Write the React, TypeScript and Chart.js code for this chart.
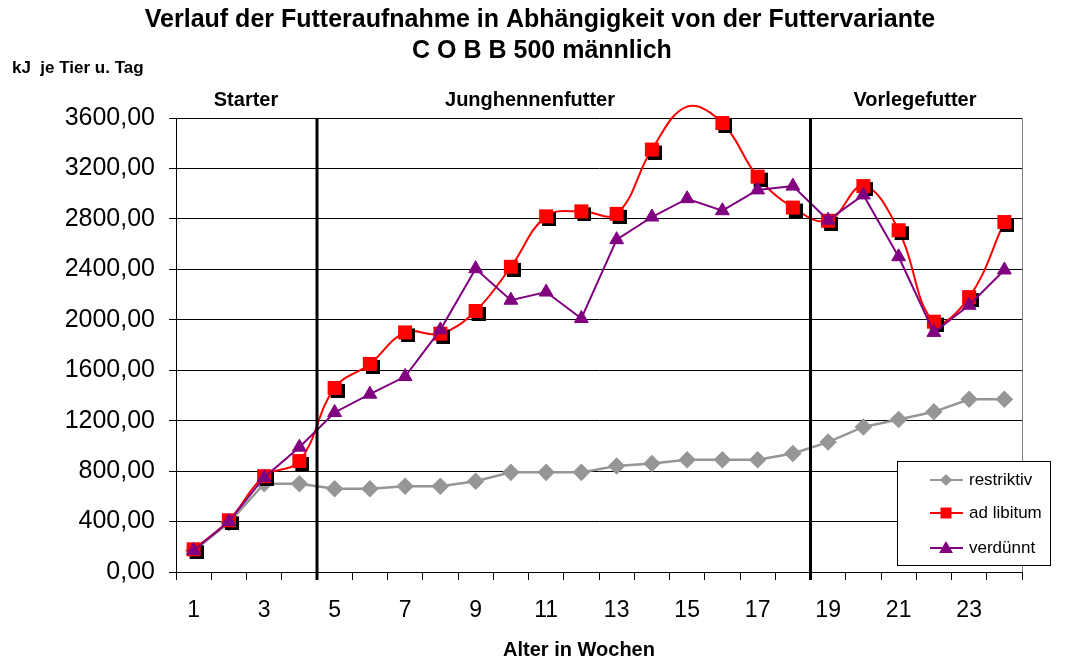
import React, { useEffect, useRef } from 'react';
import { Chart, registerables } from 'chart.js';

Chart.register(...registerables);

const weeks = ['1', '2', '3', '4', '5', '6', '7', '8', '9', '10', '11', '12', '13', '14', '15', '16', '17', '18', '19', '20', '21', '22', '23', '24'];
const restriktiv = [170, 390, 700, 700, 660, 660, 680, 680, 720, 790, 790, 790, 840, 860, 890, 890, 890, 940, 1030, 1150, 1210, 1270, 1370, 1370];
const adLibitum = [180, 410, 760, 880, 1460, 1650, 1900, 1890, 2070, 2420, 2820, 2860, 2840, 3350, 3690, 3560, 3135, 2890, 2785, 3060, 2710, 1985, 2180, 2775];
const verduennt = [170, 400, 750, 990, 1265, 1410, 1550, 1920, 2405, 2155, 2220, 2010, 2635, 2815, 2960, 2865, 3030, 3060, 2790, 2990, 2500, 1900, 2115, 2395];
const yTicks = [0, 400, 800, 1200, 1600, 2000, 2400, 2800, 3200, 3600];
const phaseBreaks = [4, 18]; // vertical lines drawn after these weeks
const phaseLabels = ['Starter', 'Junghennenfutter', 'Vorlegefutter'];
const seriesNames = ['restriktiv', 'ad libitum', 'verdünnt'];

const FONT = "'Liberation Sans', Arial, sans-serif";
const NARROW = "'Liberation Sans Narrow', 'Liberation Sans', Arial, sans-serif";

function makeRedMarker(): HTMLCanvasElement {
  const c = document.createElement('canvas');
  c.width = 20;
  c.height = 20;
  const g = c.getContext('2d')!;
  g.fillStyle = '#000';
  g.fillRect(6, 6, 14, 14);
  g.fillStyle = '#ff0000';
  g.fillRect(3, 3, 14, 14);
  return c;
}

export default function App() {
  const ref = useRef<HTMLCanvasElement | null>(null);

  useEffect(() => {
    document.body.style.margin = '0';
    const canvas = ref.current!;
    const redMarker = makeRedMarker();

    const decor = {
      id: 'decor',
      afterDraw(chart: any) {
        const ctx = chart.ctx as CanvasRenderingContext2D;
        const xs = chart.scales.x;
        const area = chart.chartArea;
        ctx.save();
        // right border of plot
        ctx.strokeStyle = '#808080';
        ctx.lineWidth = 1;
        ctx.beginPath();
        ctx.moveTo(Math.round(area.right) + 0.5, area.top);
        ctx.lineTo(Math.round(area.right) + 0.5, area.bottom);
        ctx.stroke();
        // phase separators
        ctx.strokeStyle = '#000';
        ctx.lineWidth = 3;
        phaseBreaks.forEach((w) => {
          const x = (xs.getPixelForValue(w - 1) + xs.getPixelForValue(w)) / 2;
          ctx.beginPath();
          ctx.moveTo(x, area.top);
          ctx.lineTo(x, area.bottom + 8);
          ctx.stroke();
        });
        // texts
        ctx.fillStyle = '#000';
        ctx.textBaseline = 'middle';
        ctx.textAlign = 'center';
        ctx.font = `bold 25px ${FONT}`;
        ctx.fillText('Verlauf der Futteraufnahme in Abhängigkeit von der Futtervariante', 540, 20);
        ctx.fillText('C O B B 500 männlich', 542, 51);
        ctx.font = `bold 20px ${FONT}`;
        ctx.fillText(phaseLabels[0], 246, 100);
        ctx.fillText(phaseLabels[1], 530, 100);
        ctx.fillText(phaseLabels[2], 915, 100);
        ctx.fillText('Alter in Wochen', 579, 650);
        ctx.textAlign = 'left';
        ctx.font = `bold 17px ${FONT}`;
        ctx.fillText('kJ  je Tier u. Tag', 12, 68);
        // legend
        const lx = 897, ly = 461, lw = 153, lh = 104;
        ctx.fillStyle = '#fff';
        ctx.fillRect(lx, ly, lw, lh);
        ctx.strokeStyle = '#000';
        ctx.lineWidth = 1;
        ctx.strokeRect(lx + 0.5, ly + 0.5, lw, lh);
        const rows = [480, 513, 548];
        const cols = ['#969696', '#ff0000', '#800080'];
        rows.forEach((ry, i) => {
          ctx.strokeStyle = cols[i];
          ctx.lineWidth = 2;
          ctx.beginPath();
          ctx.moveTo(930, ry);
          ctx.lineTo(963, ry);
          ctx.stroke();
          ctx.fillStyle = cols[i];
          const mx = 946;
          ctx.beginPath();
          if (i === 0) {
            ctx.moveTo(mx - 6, ry); ctx.lineTo(mx, ry - 6); ctx.lineTo(mx + 6, ry); ctx.lineTo(mx, ry + 6);
          } else if (i === 1) {
            ctx.rect(mx - 5.5, ry - 5.5, 11, 11);
          } else {
            ctx.moveTo(mx, ry - 7); ctx.lineTo(mx + 7, ry + 5); ctx.lineTo(mx - 7, ry + 5);
          }
          ctx.closePath();
          ctx.fill();
          ctx.fillStyle = '#000';
          ctx.font = `17px ${FONT}`;
          ctx.textAlign = 'left';
          ctx.fillText(seriesNames[i], 969, ry);
        });
        ctx.restore();
      },
    };

    const chart = new Chart(canvas, {
      type: 'line',
      data: {
        labels: weeks,
        datasets: [
          {
            label: seriesNames[2],
            data: verduennt,
            borderColor: '#800080',
            backgroundColor: '#800080',
            pointBackgroundColor: '#800080',
            pointBorderColor: '#800080',
            pointStyle: 'triangle',
            pointRadius: 8,
            pointBorderWidth: 1,
            borderWidth: 2,
            tension: 0,
            order: 0,
          },
          {
            label: seriesNames[1],
            data: adLibitum,
            borderColor: '#ff0000',
            backgroundColor: '#ff0000',
            pointStyle: redMarker,
            pointRadius: 7,
            borderWidth: 2,
            tension: 0.4,
            clip: false,
            order: 1,
          },
          {
            label: seriesNames[0],
            data: restriktiv,
            borderColor: '#969696',
            backgroundColor: '#969696',
            pointBackgroundColor: '#969696',
            pointBorderColor: '#969696',
            pointStyle: 'rectRot',
            pointRadius: 7,
            borderWidth: 2.5,
            tension: 0,
            order: 2,
          },
        ] as any,
      },
      options: {
        responsive: false,
        animation: false,
        events: [],
        layout: { padding: { top: 118, right: 46, left: 0, bottom: 0 } },
        elements: { line: { capBezierPoints: false } as any },
        plugins: {
          legend: { display: false },
          title: { display: false },
          tooltip: { enabled: false },
        },
        scales: {
          x: {
            type: 'category',
            offset: true,
            grid: {
              offset: true,
              drawOnChartArea: false,
              drawTicks: true,
              tickLength: 8,
              color: '#000',
              tickColor: '#000',
            },
            border: { color: '#000', width: 1 },
            ticks: {
              autoSkip: false,
              maxRotation: 0,
              color: '#000',
              padding: 17,
              font: { family: NARROW, size: 23 },
              callback: (_v: any, i: number) => (i % 2 === 0 ? weeks[i] : ''),
            },
            afterFit(s: any) {
              s.height = 88;
            },
          },
          y: {
            min: 0,
            max: 3600,
            afterBuildTicks(s: any) {
              s.ticks = yTicks.map((v) => ({ value: v }));
            },
            grid: { color: '#000', tickColor: '#000', tickLength: 7, lineWidth: 1 },
            border: { color: '#000', width: 1 },
            ticks: {
              color: '#000',
              padding: 14,
              font: { family: FONT, size: 25 },
              callback: (v: any) => Number(v).toFixed(2).replace('.', ','),
            },
            afterFit(s: any) {
              s.width = 176;
            },
          },
        },
      } as any,
      plugins: [decor],
    });

    return () => chart.destroy();
  }, []);

  return (
    <div style={{ width: 1068, height: 660, background: '#fff' }}>
      <canvas ref={ref} width={1068} height={660} style={{ display: 'block', width: 1068, height: 660 }} />
    </div>
  );
}
